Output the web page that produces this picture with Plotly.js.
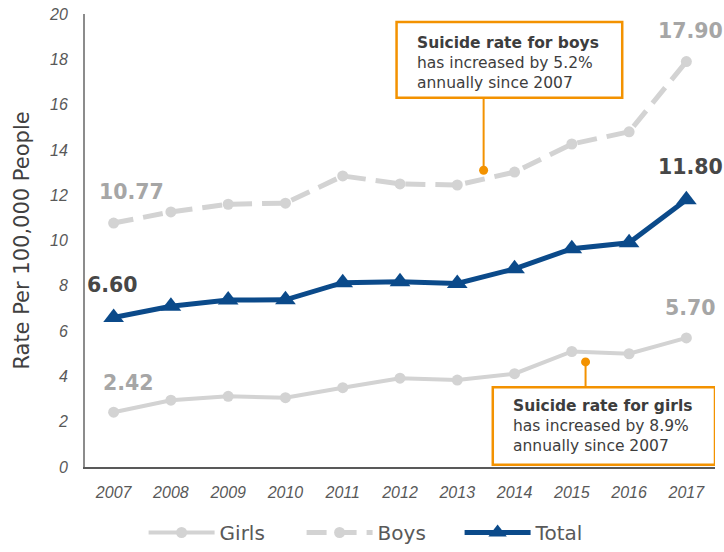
<!DOCTYPE html>
<html>
<head>
<meta charset="utf-8">
<script src="https://cdn.plot.ly/plotly-3.0.1.min.js"></script>
<style>html,body{margin:0;padding:0;background:#fff;}#chart{width:724px;height:552px;}</style>
</head>
<body>
<div id="chart"></div>
<script>
var years = ['2007','2008','2009','2010','2011','2012','2013','2014','2015','2016','2017'];
var girls = [2.42, 2.95, 3.12, 3.06, 3.5, 3.92, 3.84, 4.12, 5.1, 5.0, 5.70];
var boys  = [10.77, 11.26, 11.6, 11.65, 12.85, 12.5, 12.45, 13.02, 14.26, 14.8, 17.90];
var total = [6.60, 7.1, 7.37, 7.38, 8.14, 8.18, 8.1, 8.75, 9.64, 9.9, 11.80];
var yTicks = [0, 2, 4, 6, 8, 10, 12, 14, 16, 18, 20];

var boysNote = ['Suicide rate for boys', 'has increased by 5.2%', 'annually since 2007'];
var girlsNote = ['Suicide rate for girls', 'has increased by 8.9%', 'annually since 2007'];

var light = '#d3d3d3';
var navy = '#0b4a8a';
var orange = '#f39200';

var traces = [
  {x: years, y: girls, name: 'Girls', type: 'scatter', mode: 'lines+markers',
   line: {color: light, width: 4}, marker: {color: light, size: 11, symbol: 'circle'}},
  {x: years, y: boys, name: 'Boys', type: 'scatter', mode: 'lines+markers',
   line: {color: light, width: 5, dash: '20px,10px'}, marker: {color: light, size: 11, symbol: 'circle'}},
  {x: years, y: total, name: 'Total', type: 'scatter', mode: 'lines+markers',
   line: {color: navy, width: 5}, marker: {color: navy, size: 18, symbol: 'triangle-up'}}
];

var last = years.length - 1;
function valLabel(i, y, txt, color, xs, ys) {
  return {x: i, y: y, xref: 'x', yref: 'y', text: '<b>' + txt + '</b>', showarrow: false,
    xshift: xs, yshift: ys, font: {family: 'DejaVu Sans', size: 20.5, color: color}};
}
var lightTxt = '#a6a6a6', darkTxt = '#474747';
var annotations = [
  valLabel(0, boys[0], boys[0].toFixed(2), lightTxt, 18, 31),
  valLabel(0, total[0], total[0].toFixed(2), darkTxt, -1, 33),
  valLabel(0, girls[0], girls[0].toFixed(2), lightTxt, 15, 29),
  valLabel(last, boys[last], boys[last].toFixed(2), lightTxt, 4, 31),
  valLabel(last, total[last], total[last].toFixed(2), darkTxt, 4, 33),
  valLabel(last, girls[last], girls[last].toFixed(2), lightTxt, 4, 30),
  {x: 5.27, y: 17.85, xref: 'x', yref: 'y', xanchor: 'left', yanchor: 'middle', align: 'left', showarrow: false,
   text: '<b>' + boysNote[0] + '</b><br>' + boysNote[1] + '<br>' + boysNote[2],
   font: {family: 'DejaVu Sans', size: 15.5, color: '#3d3d3d'}},
  {x: 6.94, y: 1.81, xref: 'x', yref: 'y', xanchor: 'left', yanchor: 'middle', align: 'left', showarrow: false,
   text: '<b>' + girlsNote[0] + '</b><br>' + girlsNote[1] + '<br>' + girlsNote[2],
   font: {family: 'DejaVu Sans', size: 15.5, color: '#3d3d3d'}}
];

var shapes = [
  {type: 'rect', xref: 'x', yref: 'y', x0: 4.94, x1: 8.88, y0: 16.3, y1: 19.65,
   line: {color: orange, width: 2.5}, fillcolor: 'rgba(255,255,255,0)'},
  {type: 'line', xref: 'x', yref: 'y', x0: 6.46, x1: 6.46, y0: 13.1, y1: 16.3,
   line: {color: orange, width: 2}},
  {type: 'circle', xref: 'x', yref: 'y', xsizemode: 'pixel', ysizemode: 'pixel',
   xanchor: 6.46, yanchor: 13.1, x0: -4.5, x1: 4.5, y0: -4.5, y1: 4.5,
   line: {color: orange, width: 0}, fillcolor: orange},
  {type: 'rect', xref: 'x', yref: 'y', x0: 6.62, x1: 10.5, y0: 0.1, y1: 3.52,
   line: {color: orange, width: 2.5}, fillcolor: 'rgba(255,255,255,0)'},
  {type: 'line', xref: 'x', yref: 'y', x0: 8.24, x1: 8.24, y0: 3.52, y1: 4.64,
   line: {color: orange, width: 2}},
  {type: 'circle', xref: 'x', yref: 'y', xsizemode: 'pixel', ysizemode: 'pixel',
   xanchor: 8.24, yanchor: 4.64, x0: -4.5, x1: 4.5, y0: -4.5, y1: 4.5,
   line: {color: orange, width: 0}, fillcolor: orange}
];

var layout = {
  width: 724, height: 552,
  margin: {l: 85, r: 9, t: 14, b: 85, pad: 0, autoexpand: false},
  paper_bgcolor: '#ffffff', plot_bgcolor: '#ffffff',
  showlegend: true,
  legend: {orientation: 'h', x: 0.093, xanchor: 'left', yref: 'container', y: -0.007, yanchor: 'bottom',
    itemwidth: 66, entrywidth: 77, entrywidthmode: 'pixels', borderwidth: 0,
    font: {family: 'DejaVu Sans', size: 20, color: '#595959'}},
  xaxis: {type: 'category', range: [-0.5, 10.5], showgrid: false, zeroline: false,
    showline: true, linecolor: '#595959', linewidth: 2, ticks: '',
    tickfont: {family: 'Liberation Sans', size: 16, color: '#595959', style: 'italic'},
    ticklabelstandoff: 10},
  yaxis: {range: [0, 20], tickvals: yTicks, showgrid: false, zeroline: false,
    showline: true, linecolor: '#8c8c8c', linewidth: 2, ticks: '',
    tickfont: {family: 'Liberation Sans', size: 16, color: '#595959', style: 'italic'},
    ticklabelstandoff: 12,
    title: {text: 'Rate Per 100,000 People', standoff: 14,
      font: {family: 'DejaVu Sans', size: 21, color: '#404040'}}},
  annotations: annotations,
  shapes: shapes
};

Plotly.newPlot('chart', traces, layout, {displayModeBar: false, staticPlot: true});
</script>
</body>
</html>
